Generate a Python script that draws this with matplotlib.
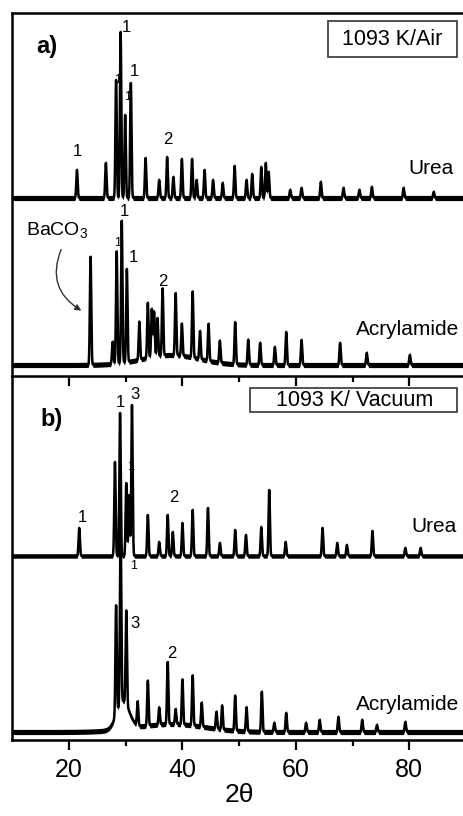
import numpy as np
import matplotlib
matplotlib.use("Agg")
import matplotlib.pyplot as plt
from matplotlib.patches import Rectangle

plt.rcParams['font.family'] = ['Liberation Sans', 'DejaVu Sans']
plt.rcParams['mathtext.fontset'] = 'custom'
plt.rcParams['mathtext.rm'] = 'Liberation Sans'
plt.rcParams['mathtext.it'] = 'Liberation Sans:italic'

# ---- peak tables: (2theta, height above baseline, a.u.) ----
air_urea_pos = [21.4, 26.5, 28.3, 29.1, 29.9, 30.9, 33.5, 35.9, 37.3, 38.4, 39.9, 41.7,
                42.5, 43.9, 45.4, 47.1, 49.2, 51.3, 52.3, 53.9, 54.7, 55.2, 59.0, 61.0,
                64.4, 68.4, 71.2, 73.4, 79.0, 84.3]
air_urea_int = [28, 35, 118, 166, 83, 115, 40, 18, 41, 21, 39, 39,
                18, 28, 18, 15, 32, 18, 24, 31, 35, 26, 8, 10,
                16, 10, 8, 11, 10, 6]

air_acryl_pos = [23.8, 27.7, 28.4, 29.3, 30.2, 32.4, 33.9, 34.6, 35.0, 35.6, 36.5, 38.8,
                 39.9, 41.8, 43.1, 44.6, 46.6, 49.3, 51.6, 53.7, 56.3, 58.3, 61.0, 67.8,
                 72.5, 80.1]
air_acryl_int = [108, 22, 112, 142, 93, 38, 55, 48, 45, 38, 67, 62,
                 32, 66, 28, 37, 22, 42, 25, 22, 18, 33, 25, 22,
                 12, 10]

vac_urea_pos = [21.8, 28.1, 29.0, 30.1, 30.6, 31.1, 33.9, 35.9, 37.4, 38.3, 40.0, 41.8,
                44.5, 46.6, 49.3, 51.2, 53.9, 55.3, 58.2, 64.7, 67.3, 69.0, 73.5, 79.3,
                82.0]
vac_urea_int = [28, 94, 143, 73, 61, 151, 41, 14, 41, 24, 33, 46,
                48, 13, 26, 21, 29, 66, 14, 28, 13, 11, 25, 8,
                8]

vac_acryl_pos = [28.3, 29.1, 30.1, 32.1, 33.9, 35.9, 37.4, 38.8, 40.0, 41.8, 43.4, 46.0,
                 47.0, 49.3, 51.3, 54.0, 56.2, 58.3, 61.8, 64.2, 67.5, 71.7, 74.3, 79.3]
vac_acryl_int = [109, 175, 94, 24, 45, 17, 62, 15, 45, 50, 24, 17,
                 24, 35, 24, 40, 9, 19, 9, 12, 15, 12, 7, 10]

# broad humps under the sharp reflections: (centre, height, width)
air_acryl_bg = [(38.0, 10, 5.0)]
vac_acryl_bg = [(29.5, 28, 1.1), (38.0, 8, 6.0)]

# vertical offsets of each pattern inside its panel
air_urea_off, air_acryl_off = 178, 11
vac_urea_off, vac_acryl_off = 184, 8

tt = np.arange(10.0, 90.0, 0.02)


def pattern(pos, inten, bg=(), fwhm=0.28):
    s = fwhm / 2.355
    y = np.zeros_like(tt)
    for p, h in zip(pos, inten):
        y += h * np.exp(-0.5 * ((tt - p) / s) ** 2)
    for c, h, w in bg:
        y += h * np.exp(-0.5 * ((tt - c) / w) ** 2)
    return y


def draw(ax, y, band=2.6):
    # counting-noise band around the trace plus the trace itself
    ax.fill_between(tt, y - band, y + band, color='black', lw=0)
    ax.plot(tt, y, color='black', lw=1.8)


W, H = 463, 816
fig = plt.figure(figsize=(W / 100, H / 100), dpi=100)
left = 12.3 / W
width = (466 - 12.3) / W
ax_a = fig.add_axes([left, 1 - 376 / H, width, 363 / H])
ax_b = fig.add_axes([left, 1 - 740 / H, width, 364 / H])

draw(ax_a, air_acryl_off + pattern(air_acryl_pos, air_acryl_int, air_acryl_bg))
draw(ax_a, air_urea_off + pattern(air_urea_pos, air_urea_int))
draw(ax_b, vac_acryl_off + pattern(vac_acryl_pos, vac_acryl_int, vac_acryl_bg))
draw(ax_b, vac_urea_off + pattern(vac_urea_pos, vac_urea_int), band=2.2)

ax_a.set_ylim(0, 363)
ax_b.set_ylim(0, 364)

for ax in (ax_a, ax_b):
    ax.set_xlim(10, 90)
    ax.patch.set_alpha(0)
    ax.set_yticks([])
    ax.set_xticks([20, 40, 60, 80])
    ax.set_xticks([30, 50, 70], minor=True)
    ax.tick_params(axis='x', which='major', direction='out', length=7, width=1.6, labelsize=18, pad=6)
    ax.tick_params(axis='x', which='minor', direction='out', length=4, width=1.6)
    ax.spines['right'].set_visible(False)
    for side in ('left', 'top', 'bottom'):
        ax.spines[side].set_linewidth(1.8)

ax_a.tick_params(axis='x', labelbottom=False)
ax_b.spines['top'].set_visible(False)
ax_b.set_xlabel('2θ', fontsize=19, labelpad=1)

# panel tags
ax_a.text(14.3, 329, 'a)', fontsize=17, fontweight='bold', va='center', ha='left')
ax_b.text(15.0, 320, 'b)', fontsize=17, fontweight='bold', va='center', ha='left')

# condition boxes
ax_a.add_patch(Rectangle((0.696, 0.879), 0.284, 0.099, transform=ax_a.transAxes,
                         fill=False, lw=1.2, edgecolor='#333333'))
ax_a.text(0.838, 0.928, '1093 K/Air', transform=ax_a.transAxes, fontsize=15.5,
          ha='center', va='center')
ax_b.add_patch(Rectangle((0.524, 0.901), 0.456, 0.066, transform=ax_b.transAxes,
                         fill=False, lw=1.2, edgecolor='#333333'))
ax_b.text(0.755, 0.932, '1093 K/ Vacuum', transform=ax_b.transAxes, fontsize=15.5,
          ha='center', va='center')

# pattern names
ax_a.text(87.8, 208, 'Urea', fontsize=15, ha='right', va='center')
ax_a.text(88.8, 46, 'Acrylamide', fontsize=15, ha='right', va='center')
ax_b.text(88.3, 213, 'Urea', fontsize=15, ha='right', va='center')
ax_b.text(88.8, 35, 'Acrylamide', fontsize=15, ha='right', va='center')

# reflection indices
lab = dict(ha='center', va='center', fontsize=12)
small = dict(ha='center', va='center', fontsize=9)
ax_a.text(21.4, 224, '1', **lab)
ax_a.text(30.2, 349, '1', **lab)
ax_a.text(31.6, 304, '1', **lab)
ax_a.text(28.5, 296, '1', **small)
ax_a.text(30.4, 279, '1', **small)
ax_a.text(37.5, 236, '2', **lab)
ax_a.text(28.5, 133, '1', **small)
ax_a.text(29.7, 164, '1', **lab)
ax_a.text(31.3, 119, '1', **lab)
ax_a.text(36.6, 95, '2', **lab)

ax_b.text(22.4, 222, '1', **lab)
ax_b.text(29.0, 337, '1', **lab)
ax_b.text(31.6, 345, '3', **lab)
ax_b.text(30.8, 273, '1', **small)
ax_b.text(38.5, 242, '2', **lab)
ax_b.text(31.3, 174, '1', **small)
ax_b.text(31.6, 117, '3', **lab)
ax_b.text(38.2, 87, '2', **lab)

# BaCO3 impurity marker
ax_a.text(17.9, 146, r'BaCO$_\mathregular{3}$', fontsize=14, ha='center', va='center')
ax_a.annotate('', xy=(22.6, 64), xytext=(18.8, 129),
              arrowprops=dict(arrowstyle='-|>', color='#333333', lw=1.0,
                              mutation_scale=9,
                              connectionstyle='arc3,rad=0.45'))

fig.savefig('out.png', dpi=100)
